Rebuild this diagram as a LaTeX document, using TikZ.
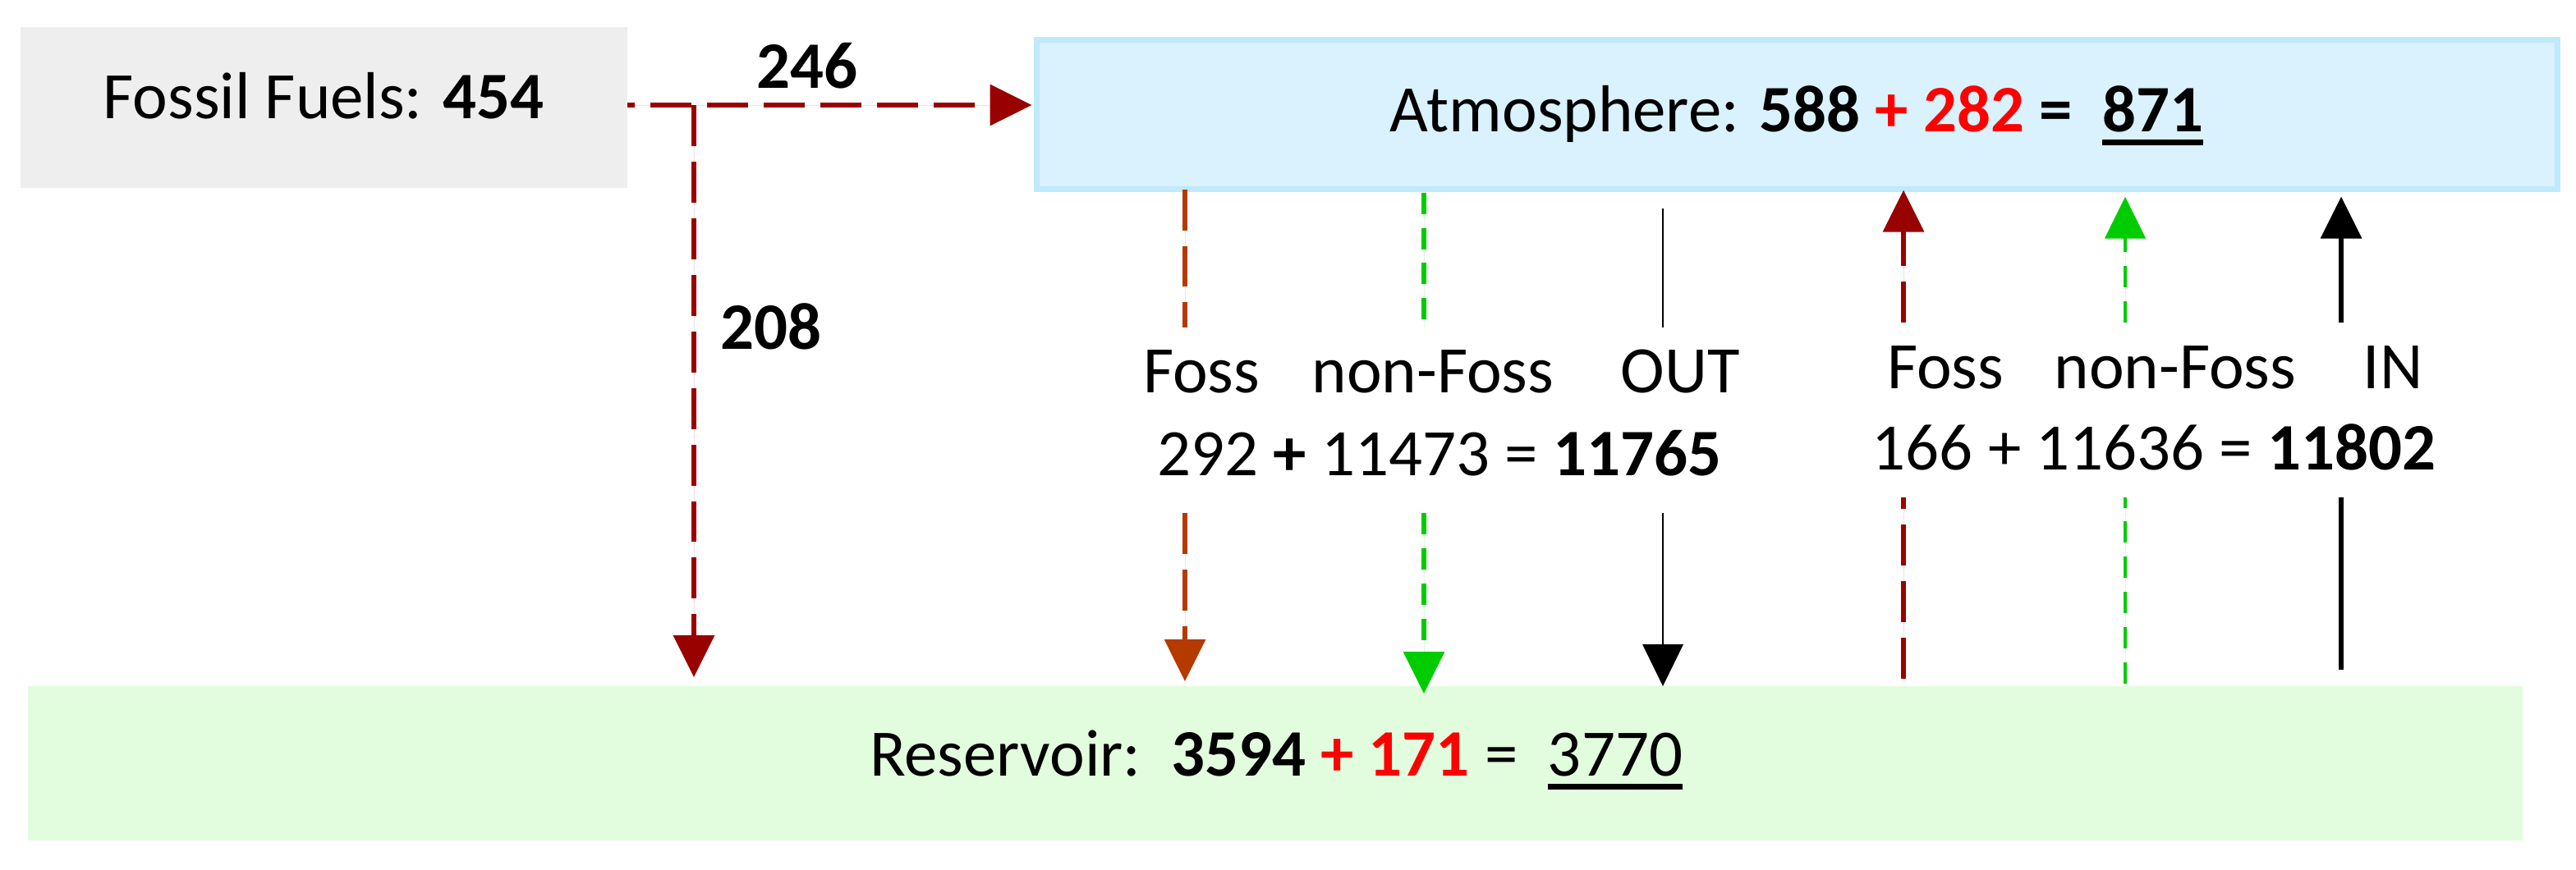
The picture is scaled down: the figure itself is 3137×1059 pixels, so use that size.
\documentclass[tikz,border=0pt]{standalone}
\usepackage{fontspec}
\setmainfont{Carlito}
\usetikzlibrary{arrows.meta}
\definecolor{fossred}{RGB}{153,0,0}
\definecolor{fossorange}{RGB}{180,58,0}
\definecolor{nfgreen}{RGB}{0,204,0}
\definecolor{atmfill}{RGB}{217,242,253}
\definecolor{atmedge}{RGB}{190,234,252}
\definecolor{resfill}{RGB}{226,252,222}
\definecolor{fffill}{RGB}{238,238,238}
\newcommand\ulbar[1]{\setbox0=\hbox{#1}\rlap{\rule[-0.165cm]{\wd0}{0.07cm}}\box0}
\begin{document}
\begin{tikzpicture}[x=0.01cm,y=-0.01cm,
  lbl/.style={inner sep=0pt, outer sep=0pt, anchor=base, font=\fontsize{23}{27}\selectfont},
  tip/.style={-{Triangle[length=14.5pt,width=14pt]}},
  boxnode/.style={inner sep=0pt, outer sep=0pt, anchor=north west},
  longdash/.style={dash pattern=on 14.2pt off 5.4pt},
  shortdash/.style={dash pattern=on 7.4pt off 4.8pt},
  fossline/.style={draw=fossred, fill=fossred, line width=1.7pt, longdash},
  orangeline/.style={draw=fossorange, fill=fossorange, line width=1.6pt, longdash},
  greenline/.style={draw=nfgreen, fill=nfgreen, line width=1.7pt, shortdash},
  greenthin/.style={draw=nfgreen, fill=nfgreen, line width=1.2pt, shortdash},
  blackthin/.style={draw=black, fill=black, line width=0.8pt},
  blackthick/.style={draw=black, fill=black, line width=1.7pt}
]
\useasboundingbox (0,0) rectangle (3137,1059);

% boxes
\node[boxnode, fill=fffill, minimum width=7.39cm, minimum height=1.96cm] (ff) at (25,33) {};
\node[boxnode, fill=atmfill, draw=atmedge, line width=2pt, minimum width=18.51cm, minimum height=1.82cm] (atm) at (1262.5,48.5) {};
\node[boxnode, fill=resfill, minimum width=30.36cm, minimum height=1.88cm] (res) at (34,836) {};

% box texts
\node[lbl] (ffT) at (394,144) {Fossil Fuels: \textbf{454}};
\node[lbl] (atmT) at (2188,160) {Atmosphere: \textbf{588} \textcolor{red}{\textbf{+ 282}} \textbf{=}\ \ \ulbar{\textbf{871}}};
\node[lbl] (resT) at (1554,945) {Reservoir:\ \ \textbf{3594} \textcolor{red}{\textbf{+ 171}} = \ \ulbar{3770}};

% fossil fuel flows
\coordinate (br) at (845,128);
\draw[fossline, dash phase=11.7pt, tip] (ff.east |- br) -- ([xshift=-0.06cm]br -| atm.west);
\draw[fossline, tip] (br) -- ([yshift=0.11cm]br |- res.north);
\node[lbl] (l246) at (983,107) {\textbf{246}};
\node[lbl] (l208) at (939,425) {\textbf{208}};

% outgoing flows (atmosphere -> reservoir)
\coordinate (o1) at (1443,399); \coordinate (o1b) at (1443,625);
\coordinate (o2) at (1734,399); \coordinate (o2b) at (1734,625);
\coordinate (o3s) at (2025,254); \coordinate (o3) at (2025,399); \coordinate (o3b) at (2025,625);
\draw[orangeline] (atm.south -| o1) -- (o1);
\draw[orangeline, tip] (o1b) -- ([yshift=0.06cm]o1b |- res.north);
\draw[greenline] ([yshift=-0.04cm]atm.south -| o2) -- (o2);
\draw[greenline, tip] (o2b) -- ([yshift=-0.09cm]o2b |- res.north);
\draw[blackthin] (o3s) -- (o3);
\draw[blackthin, tip] (o3b) -- (o3b |- res.north);

% incoming flows (reservoir -> atmosphere)
\coordinate (i1) at (2318,606); \coordinate (i1t) at (2318,393);
\coordinate (i2) at (2588,606); \coordinate (i2t) at (2588,393);
\coordinate (i3) at (2851,606); \coordinate (i3t) at (2851,393);
\draw[fossline] ([yshift=0.09cm]i1 |- res.north) -- (i1);
\draw[fossline, tip] (i1t) -- ([yshift=-0.01cm]i1t |- atm.south);
\draw[greenthin] ([yshift=0.03cm]i2 |- res.north) -- (i2);
\draw[greenthin, tip] (i2t) -- ([yshift=-0.09cm]i2t |- atm.south);
\draw[blackthick] ([yshift=0.2cm]i3 |- res.north) -- (i3);
\draw[blackthick, tip] (i3t) -- ([yshift=-0.09cm]i3t |- atm.south);

% flow labels
\node[lbl] (lf1) at (1463,478) {Foss};
\node[lbl] (lnf1) at (1745,478) {non-Foss};
\node[lbl] (lout) at (2046,478) {OUT};
\node[lbl] (lsum1) at (1753,579) {292 \textbf{+} 11473 = \textbf{11765}};
\node[lbl] (lf2) at (2369,473) {Foss};
\node[lbl] (lnf2) at (2649,473) {non-Foss};
\node[lbl] (lin) at (2914,473) {IN};
\node[lbl] (lsum2) at (2623,572) {166 + 11636 = \textbf{11802}};
\end{tikzpicture}
\end{document}
